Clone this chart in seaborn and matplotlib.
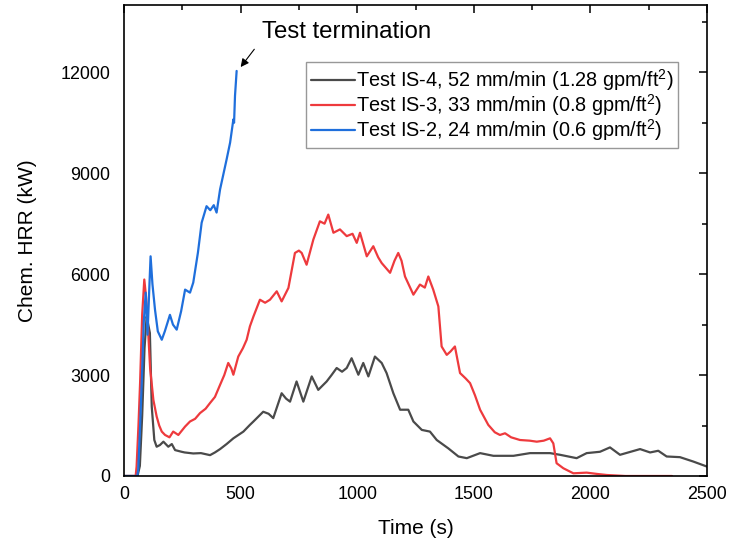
import numpy as np
import pandas as pd
import matplotlib
matplotlib.use("Agg")
import matplotlib.pyplot as plt
import seaborn as sns

t_is4 = [0, 58, 68, 78, 88, 97, 104, 111, 119, 130, 140, 154, 169, 190, 205, 219, 247, 260, 297, 330,
         369, 390, 412, 440, 469, 512, 540, 555, 597, 620, 640, 676, 695, 712, 740, 755, 769, 805, 833,
         869, 890, 912, 935, 955, 976, 1005, 1026, 1048, 1076, 1105, 1126, 1155, 1184, 1219, 1241,
         1277, 1312, 1341, 1391, 1434, 1470, 1527, 1584, 1670, 1741, 1827, 1870, 1941, 1984, 2041,
         2084, 2127, 2213, 2256, 2291, 2327, 2384, 2441, 2500]
y_is4 = [0, 0, 300, 1800, 3800, 4740, 4500, 4250, 2060, 1070, 870, 920, 1020, 870, 950, 770, 720, 700,
         670, 680, 620, 700, 800, 950, 1120, 1320, 1520, 1620, 1910, 1850, 1720, 2460, 2300, 2210,
         2810, 2500, 2210, 2960, 2560, 2810, 3000, 3210, 3100, 3210, 3500, 3010, 3360, 2960, 3550,
         3360, 3060, 2460, 1970, 1970, 1620, 1370, 1320, 1070, 820, 580, 530, 680, 600, 600, 680, 680,
         630, 530, 680, 720, 850, 630, 800, 700, 750, 580, 560, 430, 280]

t_is3 = [0, 50, 54, 62, 69, 78, 87, 95, 104, 112, 126, 140, 151, 162, 176, 195, 211, 233, 262, 283,
         305, 326, 350, 369, 390, 412, 430, 447, 460, 469, 490, 510, 526, 540, 555, 583,
         605, 626, 655, 676, 705, 733, 750, 762, 783, 812, 840, 860, 876, 898, 926, 955, 980, 998,
         1012, 1041, 1069, 1090, 1105, 1141, 1160, 1176, 1190, 1205, 1241, 1269, 1290, 1305, 1326,
         1348, 1362, 1384, 1400, 1419, 1441, 1465, 1484, 1505, 1527, 1562, 1590, 1612, 1634, 1660,
         1698, 1740, 1770, 1800, 1827, 1841, 1855, 1884, 1927, 1984, 2030, 2070, 2150, 2350]
y_is3 = [0, 0, 280, 1500, 2770, 4800, 5840, 5300, 4250, 3200, 2260, 1770, 1500, 1320, 1220, 1150,
         1320, 1220, 1470, 1620, 1700, 1870, 2000, 2170, 2350, 2710, 3000, 3360, 3200,
         3010, 3550, 3800, 4050, 4450, 4740, 5240, 5150, 5240, 5490, 5190, 5590, 6630, 6700, 6630,
         6280, 7030, 7570, 7500, 7770, 7230, 7330, 7130, 7200, 6930, 7230, 6530, 6830, 6500, 6330,
         6040, 6400, 6630, 6400, 5930, 5390, 5690, 5600, 5930, 5540, 5040, 3850, 3600, 3700, 3850,
         3060, 2900, 2760, 2400, 1970, 1520, 1300, 1220, 1270, 1150, 1070, 1050, 1020, 1050, 1120,
         970, 380, 230, 80, 100, 60, 30, 0, 0]

t_is2 = [0, 57, 61, 68, 76, 85, 93, 101, 108, 114, 122, 133, 145, 162, 175, 197, 210, 226, 245,
         262, 283, 297, 317, 333, 354, 370, 385, 397, 412, 440, 455, 469, 472, 476, 483]
y_is2 = [0, 0, 200, 1300, 2770, 4600, 5450, 4200, 5500, 6530, 5700, 4940, 4300, 4050, 4300, 4790,
         4500, 4350, 4900, 5540, 5450, 5750, 6640, 7530, 8020, 7900, 8050, 7830, 8520, 9410,
         9910, 10600, 10500, 11300, 12040]

labels = ["Test IS-4, 52 mm/min (1.28 gpm/ft$^{2}$)",
          "Test IS-3, 33 mm/min (0.8 gpm/ft$^{2}$)",
          "Test IS-2, 24 mm/min (0.6 gpm/ft$^{2}$)"]
colors = ["#4a4a4a", "#ee3a3d", "#1f6fdc"]

x_ticks = [0, 500, 1000, 1500, 2000, 2500]
y_ticks = [0, 3000, 6000, 9000, 12000]

# ---- build long table ----
frames = []
for t, y, lab in [(t_is4, y_is4, labels[0]), (t_is3, y_is3, labels[1]), (t_is2, y_is2, labels[2])]:
    frames.append(pd.DataFrame({"Time": t, "HRR": y, "Test": lab}))
df = pd.concat(frames, ignore_index=True)

sns.set_style("white")
plt.rcParams["font.family"] = ["Liberation Sans", "DejaVu Sans"]
plt.rcParams["mathtext.default"] = "regular"
plt.rcParams["text.color"] = "black"
plt.rcParams["axes.labelcolor"] = "black"
plt.rcParams["xtick.color"] = "black"
plt.rcParams["ytick.color"] = "black"

fig = plt.figure(figsize=(7.32, 5.48), dpi=100)
ax = fig.add_axes([124 / 732, 72 / 548, 583 / 732, 471 / 548])

sns.lineplot(data=df, x="Time", y="HRR", hue="Test", hue_order=labels,
             palette=dict(zip(labels, colors)), estimator=None, sort=False,
             linewidth=1.6, ax=ax)

ax.set_xlim(0, 2500)
ax.set_ylim(0, 14000)
ax.set_xticks(x_ticks)
ax.set_yticks(y_ticks)
ax.set_xticklabels([str(v) for v in x_ticks])
ax.set_yticklabels([str(v) for v in y_ticks])
ax.set_xticks(np.arange(250, 2500, 500), minor=True)
ax.set_yticks(np.arange(1500, 14000, 3000), minor=True)
ax.tick_params(axis="both", which="major", direction="in", length=6, width=1.1,
               labelsize=12.9, top=True, right=True, labeltop=False, labelright=False,
               colors="black")
ax.tick_params(axis="y", which="major", pad=10)
ax.tick_params(axis="x", which="major", pad=7)
ax.tick_params(axis="both", which="minor", direction="in", length=3.5, width=1.1,
               top=True, right=True, colors="black")
for s in ax.spines.values():
    s.set_visible(True)
    s.set_color("black")
    s.set_linewidth(1.2)

ax.set_xlabel("Time (s)", fontsize=15, labelpad=12, color="black")
ax.set_ylabel("Chem. HRR (kW)", fontsize=15, labelpad=17, color="black")

leg = ax.legend(loc="upper right", bbox_to_anchor=((678 - 124) / 583, (476 - 62) / 471),
                borderaxespad=0, fontsize=14.3, frameon=True, fancybox=False,
                handlelength=2.2, handletextpad=0.05, labelspacing=-0.03, borderpad=0.25,
                title=None, labelcolor="black")
leg.get_frame().set_edgecolor("#7f7f7f")
leg.get_frame().set_linewidth(1.0)
for line in leg.get_lines():
    line.set_linewidth(1.6)

ax.annotate("", xy=(493, 12090), xytext=(566, 12750),
            arrowprops=dict(arrowstyle="-|>", color="black", lw=0.8, mutation_scale=12))
ax.text(592, 13200, "Test termination", fontsize=17.3, va="center", ha="left", color="black")

fig.savefig("out.png", dpi=100)
